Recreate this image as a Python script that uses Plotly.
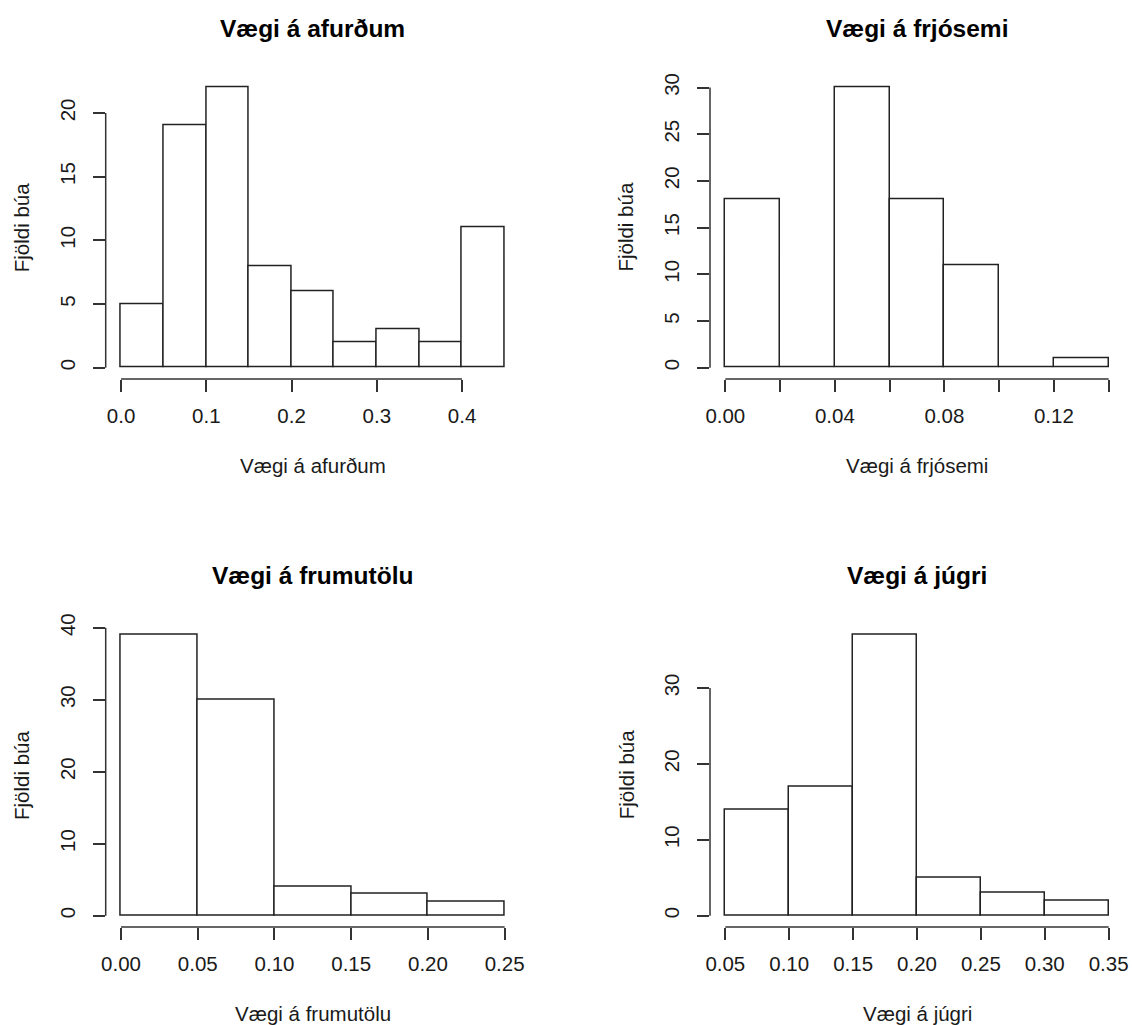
import plotly.graph_objects as go

# Histogram bin edges and counts for the four weight distributions
afurdum_breaks = [0.00, 0.05, 0.10, 0.15, 0.20, 0.25, 0.30, 0.35, 0.40, 0.45]
afurdum_counts = [5, 19, 22, 8, 6, 2, 3, 2, 11]

frjosemi_breaks = [0.00, 0.02, 0.04, 0.06, 0.08, 0.10, 0.12, 0.14]
frjosemi_counts = [18, 0, 30, 18, 11, 0, 1]

frumutolu_breaks = [0.00, 0.05, 0.10, 0.15, 0.20, 0.25]
frumutolu_counts = [39, 30, 4, 3, 2]

jugri_breaks = [0.05, 0.10, 0.15, 0.20, 0.25, 0.30, 0.35]
jugri_counts = [14, 17, 37, 5, 3, 2]

# Axis ticks (labels left blank where they would collide)
afurdum_xticks = [0.0, 0.1, 0.2, 0.3, 0.4]
afurdum_xlabels = ["0.0", "0.1", "0.2", "0.3", "0.4"]
afurdum_yticks = [0, 5, 10, 15, 20]

frjosemi_xticks = [0.00, 0.02, 0.04, 0.06, 0.08, 0.10, 0.12, 0.14]
frjosemi_xlabels = ["0.00", "", "0.04", "", "0.08", "", "0.12", ""]
frjosemi_yticks = [0, 5, 10, 15, 20, 25, 30]

frumutolu_xticks = [0.00, 0.05, 0.10, 0.15, 0.20, 0.25]
frumutolu_xlabels = ["0.00", "0.05", "0.10", "0.15", "0.20", "0.25"]
frumutolu_yticks = [0, 10, 20, 30, 40]

jugri_xticks = [0.05, 0.10, 0.15, 0.20, 0.25, 0.30, 0.35]
jugri_xlabels = ["0.05", "0.10", "0.15", "0.20", "0.25", "0.30", "0.35"]
jugri_yticks = [0, 10, 20, 30]

titles = ["Vægi á afurðum", "Vægi á frjósemi", "Vægi á frumutölu", "Vægi á júgri"]
ylabel = "Fjöldi búa"

panels = [
    (afurdum_breaks, afurdum_counts, afurdum_xticks, afurdum_xlabels, afurdum_yticks),
    (frjosemi_breaks, frjosemi_counts, frjosemi_xticks, frjosemi_xlabels, frjosemi_yticks),
    (frumutolu_breaks, frumutolu_counts, frumutolu_xticks, frumutolu_xlabels, frumutolu_yticks),
    (jugri_breaks, jugri_counts, jugri_xticks, jugri_xlabels, jugri_yticks),
]

W, H = 1132, 1025
x_domains = [[105.7 / W, 520.0 / W], [710.0 / W, 1124.0 / W]]
y_domains = [[1 - 378.9 / H, 1 - 76.3 / H], [1 - 926.9 / H, 1 - 623.7 / H]]

FONT = "Liberation Sans, Arial, sans-serif"
LINE = "#333333"
TEXT = "#1a1a1a"

fig = go.Figure()
layout = {}
shapes = []
annotations = []

for i, (breaks, counts, xt, xl, yt) in enumerate(panels):
    n = i + 1
    xa = "x" if n == 1 else f"x{n}"
    ya = "y" if n == 1 else f"y{n}"
    mids = [(a + b) / 2 for a, b in zip(breaks[:-1], breaks[1:])]
    widths = [b - a for a, b in zip(breaks[:-1], breaks[1:])]
    fig.add_trace(go.Bar(
        x=mids, y=counts, width=widths, xaxis=xa, yaxis=ya,
        marker=dict(color="white", line=dict(color="#222222", width=1.5)),
        showlegend=False, hoverinfo="x+y",
    ))

    # 4% padding on both axes, as in base-graphics defaults
    xspan = breaks[-1] - breaks[0]
    xr = [breaks[0] - 0.04 * xspan, breaks[-1] + 0.04 * xspan]
    ymax = max(counts)
    yr = [-0.04 * ymax, 1.04 * ymax]

    col = i % 2
    row = i // 2
    xkey = "xaxis" if n == 1 else f"xaxis{n}"
    ykey = "yaxis" if n == 1 else f"yaxis{n}"
    layout[xkey] = dict(
        domain=x_domains[col], anchor=ya, range=xr, showgrid=False, zeroline=False,
        showline=False, ticks="outside", ticklen=12, tickwidth=1.5, tickcolor=LINE,
        tickvals=xt, ticktext=xl, tickfont=dict(family=FONT, size=20.5, color=TEXT),
        ticklabelstandoff=6, automargin=False, fixedrange=True,
    )
    layout[ykey] = dict(
        domain=y_domains[row], anchor=xa, range=yr, showgrid=False, zeroline=False,
        showline=False, ticks="outside", ticklen=12, tickwidth=1.5, tickcolor=LINE,
        tickvals=yt, ticktext=[str(v) for v in yt], tickangle=-90,
        tickfont=dict(family=FONT, size=20.5, color=TEXT),
        ticklabelstandoff=10, automargin=False, fixedrange=True,
    )

    # axis lines spanning first to last tick
    shapes.append(dict(type="line", xref=xa, yref=f"{ya} domain",
                       x0=xt[0], x1=xt[-1], y0=0, y1=0,
                       line=dict(color=LINE, width=1.5)))
    shapes.append(dict(type="line", xref=f"{xa} domain", yref=ya,
                       x0=0, x1=0, y0=yt[0], y1=yt[-1],
                       line=dict(color=LINE, width=1.5)))

    # panel title
    annotations.append(dict(text=f"<b>{titles[i]}</b>", xref=f"{xa} domain", yref=f"{ya} domain",
                            x=0.5, y=1, yshift=48, xanchor="center", yanchor="middle",
                            showarrow=False, font=dict(family=FONT, size=24.5, color="black")))
    # x axis title
    annotations.append(dict(text=titles[i], xref=f"{xa} domain", yref=f"{ya} domain",
                            x=0.5, y=0, yshift=-87, xanchor="center", yanchor="middle",
                            showarrow=False, font=dict(family=FONT, size=20.5, color=TEXT)))
    # y axis title
    annotations.append(dict(text=ylabel, xref=f"{xa} domain", yref=f"{ya} domain",
                            x=0, y=0.5, xshift=-84, xanchor="center", yanchor="middle",
                            textangle=-90, showarrow=False,
                            font=dict(family=FONT, size=20.5, color=TEXT)))

fig.update_layout(
    template="none",
    width=W, height=H, margin=dict(l=0, r=0, t=0, b=0, autoexpand=False),
    paper_bgcolor="white", plot_bgcolor="white",
    bargap=0, shapes=shapes, annotations=annotations, **layout,
)

fig.write_html("out.html")
